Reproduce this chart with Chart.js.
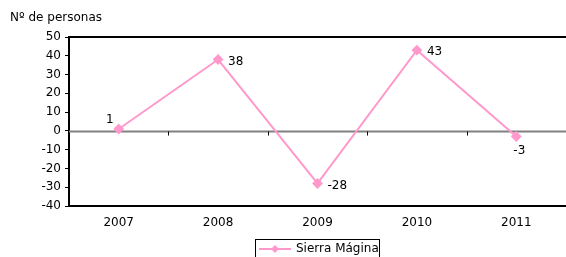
<!DOCTYPE html>
<html>
<head>
<meta charset="utf-8">
<script src="https://cdn.jsdelivr.net/npm/chart.js@4/dist/chart.umd.min.js"></script>
<style>
  html, body { margin: 0; padding: 0; background: #fff; overflow: hidden; }
  #wrap { position: relative; width: 566px; height: 257px; overflow: hidden; }
  canvas { position: absolute; left: 0; top: 0; }
</style>
</head>
<body>
<div id="wrap"><canvas id="chart" width="572" height="257"></canvas></div>
<script>
// chart data
const years = ['2007', '2008', '2009', '2010', '2011'];
const personas = [1, 38, -28, 43, -3];
const yTicks = [-40, -30, -20, -10, 0, 10, 20, 30, 40, 50];
const seriesName = 'Sierra Mágina';
const axisTitle = 'Nº de personas';

const pink = '#ff99cc';
const fontFamily = '"DejaVu Sans", Verdana, sans-serif';
const font = '12px ' + fontFamily;

// where each value label sits relative to its point
const labelPos = ['above-left', 'right', 'right', 'right', 'below'];

const extras = {
    id: 'extras',
    beforeDatasetsDraw(chart) {
        const ctx = chart.ctx;
        const area = chart.chartArea;
        const x = chart.scales.x;
        const y = chart.scales.y;
        ctx.save();

        // top border of plot
        ctx.strokeStyle = '#000';
        ctx.lineWidth = 2;
        ctx.beginPath();
        ctx.moveTo(area.left - 1, area.top);
        ctx.lineTo(area.right + 2, area.top);
        ctx.stroke();

        // zero line with category ticks
        const y0 = Math.round(y.getPixelForValue(0)) + 0.5;
        ctx.strokeStyle = '#808080';
        ctx.lineWidth = 2;
        ctx.beginPath();
        ctx.moveTo(area.left, y0);
        ctx.lineTo(area.right + 2, y0);
        ctx.stroke();
        ctx.strokeStyle = '#000';
        ctx.lineWidth = 1;
        for (let i = 1; i < years.length; i++) {
            const bx = Math.round((x.getPixelForValue(i - 1) + x.getPixelForValue(i)) / 2) + 0.5;
            ctx.beginPath();
            ctx.moveTo(bx, y0);
            ctx.lineTo(bx, y0 + 4);
            ctx.stroke();
        }
        ctx.restore();
    },
    afterDatasetsDraw(chart) {
        const ctx = chart.ctx;
        ctx.save();

        // value labels
        ctx.font = font;
        ctx.fillStyle = '#000';
        const meta = chart.getDatasetMeta(0);
        meta.data.forEach((pt, i) => {
            const txt = String(personas[i]);
            if (labelPos[i] === 'right') {
                ctx.textAlign = 'left';
                ctx.textBaseline = 'middle';
                ctx.fillText(txt, pt.x + 10, pt.y + 2);
            } else if (labelPos[i] === 'below') {
                ctx.textAlign = 'center';
                ctx.textBaseline = 'top';
                ctx.fillText(txt, pt.x + 3, pt.y + 8);
            } else {
                ctx.textAlign = 'center';
                ctx.textBaseline = 'bottom';
                ctx.fillText(txt, pt.x - 9, pt.y - 3);
            }
        });

        // axis title
        ctx.textAlign = 'left';
        ctx.textBaseline = 'top';
        ctx.fillText(axisTitle, 10, 12);

        // legend box
        const lx = 255, ly = 239;
        ctx.strokeStyle = '#000';
        ctx.lineWidth = 1;
        ctx.strokeRect(lx + 0.5, ly + 0.5, 124, 24);
        ctx.strokeStyle = pink;
        ctx.lineWidth = 2;
        ctx.beginPath();
        ctx.moveTo(lx + 4, ly + 10);
        ctx.lineTo(lx + 36, ly + 10);
        ctx.stroke();
        ctx.fillStyle = pink;
        ctx.beginPath();
        ctx.moveTo(lx + 20, ly + 6);
        ctx.lineTo(lx + 24, ly + 10);
        ctx.lineTo(lx + 20, ly + 14);
        ctx.lineTo(lx + 16, ly + 10);
        ctx.closePath();
        ctx.fill();
        ctx.fillStyle = '#000';
        ctx.textBaseline = 'middle';
        ctx.fillText(seriesName, lx + 41, ly + 10);

        ctx.restore();
    }
};

const ctx = document.getElementById('chart').getContext('2d');
new Chart(ctx, {
    type: 'line',
    data: {
        labels: years,
        datasets: [{
            label: seriesName,
            data: personas,
            borderColor: pink,
            backgroundColor: pink,
            borderWidth: 2,
            pointStyle: 'rectRot',
            pointRadius: 4,
            pointHoverRadius: 4,
            tension: 0
        }]
    },
    options: {
        responsive: false,
        animation: false,
        events: [],
        layout: { padding: { top: 37, left: 1, right: 4, bottom: 0 } },
        plugins: {
            legend: { display: false },
            tooltip: { enabled: false }
        },
        scales: {
            x: {
                offset: true,
                grid: { display: false, drawTicks: false },
                border: { color: '#000', width: 2 },
                ticks: { color: '#000', font: { family: fontFamily, size: 12 }, padding: 10, maxRotation: 0 },
                afterFit(scale) { scale.height = 51; }
            },
            y: {
                min: -40,
                max: 50,
                afterBuildTicks(scale) { scale.ticks = yTicks.map(v => ({ value: v })); },
                grid: { drawOnChartArea: false, tickLength: 4, color: '#000' },
                border: { color: '#000', width: 2 },
                ticks: {
                    color: '#000',
                    font: { family: fontFamily, size: 12 },
                    padding: 4,
                    callback: v => String(v)
                },
                afterFit(scale) { scale.width = 68; }
            }
        }
    },
    plugins: [extras]
});
</script>
</body>
</html>
